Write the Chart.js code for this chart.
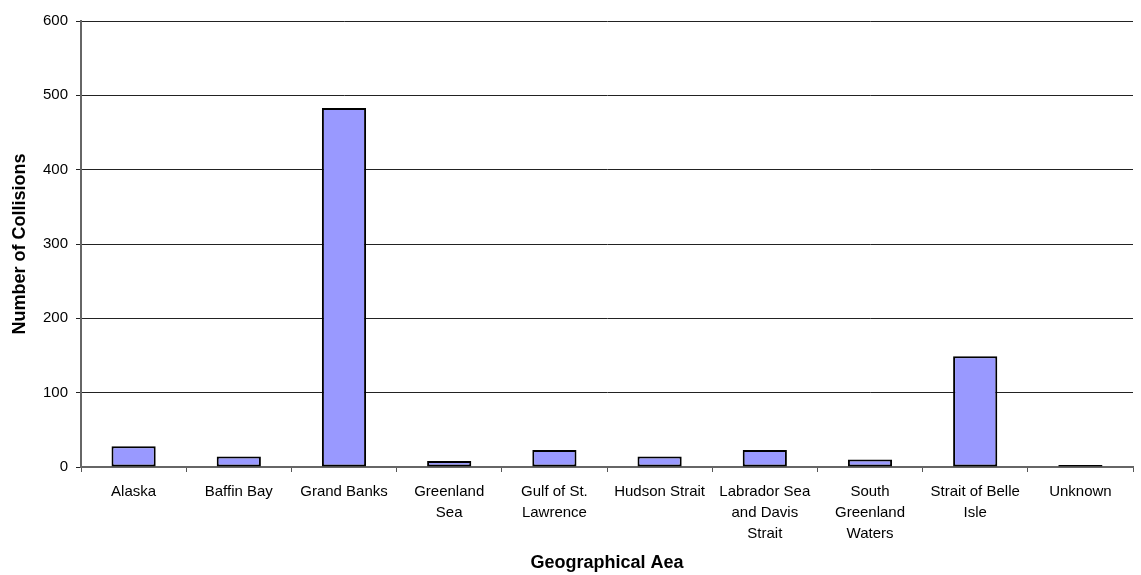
<!DOCTYPE html>
<html>
<head>
<meta charset="utf-8">
<title>Collisions by Geographical Area</title>
<script src="https://cdn.jsdelivr.net/npm/chart.js@4"></script>
<style>
  html, body { margin: 0; padding: 0; background: #fff; }
  #wrap { width: 1141px; height: 575px; position: relative; }
</style>
</head>
<body>
<div id="wrap"><canvas id="chart1"></canvas></div>
<script>
// categories (multi-line labels as they wrap in the original)
const areas = [
  'Alaska',
  'Baffin Bay',
  'Grand Banks',
  ['Greenland', 'Sea'],
  ['Gulf of St.', 'Lawrence'],
  'Hudson Strait',
  ['Labrador Sea', 'and Davis', 'Strait'],
  ['South', 'Greenland', 'Waters'],
  ['Strait of Belle', 'Isle'],
  'Unknown'
];

// number of collisions per area
const collisions = [28, 14, 483, 8, 23, 14, 23, 10, 149, 1];

// y axis range
const yMin = 0;
const yMax = 600;
const yStep = 100;

document.addEventListener('DOMContentLoaded', function() {
  const font = "'Liberation Sans', Arial, sans-serif";

  const barData = {
    labels: areas,
    datasets: [{
      label: 'Collisions',
      data: collisions,
      backgroundColor: '#9999FF',
      borderColor: '#000000',
      borderWidth: 2,
      borderSkipped: false,
      minBarLength: 2,
      barPercentage: 0.42,
      categoryPercentage: 1.0
    }]
  };

  const barConfig = {
    type: 'bar',
    data: barData,
    options: {
      responsive: true,
      maintainAspectRatio: false,
      animation: false,
      layout: {
        padding: { top: 21, right: 8, left: 0, bottom: 0 }
      },
      plugins: {
        legend: { display: false },
        tooltip: { enabled: false }
      },
      scales: {
        x: {
          offset: true,
          grid: {
            offset: true,
            drawOnChartArea: false,
            drawTicks: true,
            tickLength: 5,
            color: '#555'
          },
          border: { color: '#666', width: 2 },
          ticks: {
            color: '#000',
            padding: 9,
            maxRotation: 0,
            autoSkip: false,
            font: { family: font, size: 15, lineHeight: 1.4 }
          },
          title: {
            display: true,
            text: 'Geographical Aea',
            color: '#000',
            padding: { top: 1, bottom: 1 },
            font: { family: font, size: 18, weight: 'bold' }
          },
          afterFit: function(scale) { scale.height = 108; }
        },
        y: {
          min: yMin,
          max: yMax,
          grid: {
            color: '#222',
            lineWidth: 1,
            tickLength: 5
          },
          border: { color: '#666', width: 2 },
          ticks: {
            stepSize: yStep,
            color: '#000',
            padding: 8,
            font: { family: font, size: 15 }
          },
          title: {
            display: true,
            text: 'Number of Collisions',
            color: '#000',
            padding: { top: 9, bottom: 0 },
            font: { family: font, size: 18, weight: 'bold' }
          },
          afterFit: function(scale) { scale.width = 81; }
        }
      }
    }
  };

  const barCtx = document.getElementById('chart1').getContext('2d');
  new Chart(barCtx, barConfig);
});
</script>
</body>
</html>
